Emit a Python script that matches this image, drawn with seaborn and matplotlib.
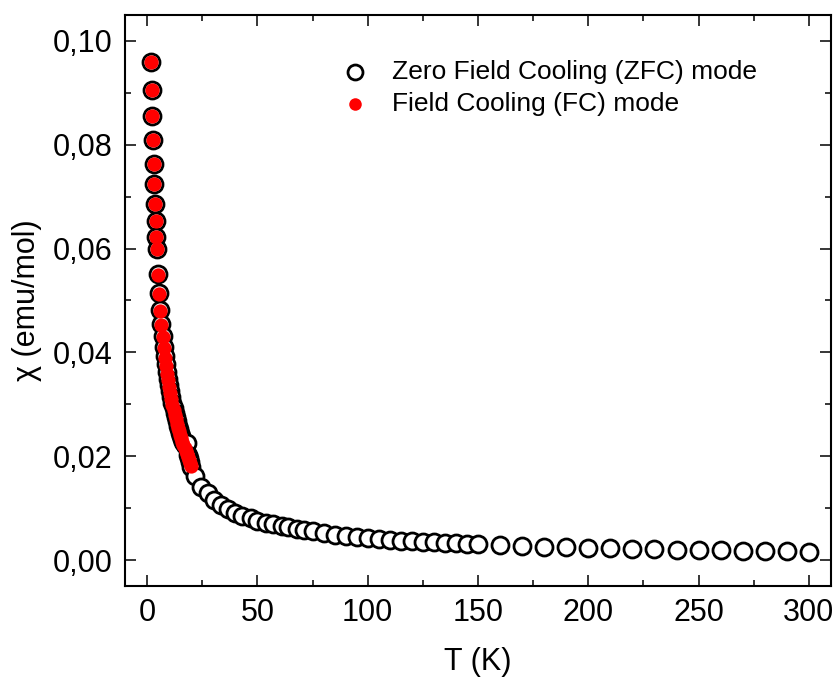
import numpy as np
import pandas as pd
import matplotlib
matplotlib.use('Agg')
import matplotlib.pyplot as plt
from matplotlib.ticker import MultipleLocator, FuncFormatter
import seaborn as sns

# low-T part, measured in both modes
t_low = [1.8, 2.1, 2.4, 2.7, 3.0, 3.3, 3.6, 3.9, 4.2, 4.5,
         5.0, 5.5, 6.0, 6.5, 7.0, 7.5, 8.0, 8.5, 9.0, 9.5,
         10.0, 10.5, 11.0, 11.5, 12.0, 12.5, 13.0, 13.5, 14.0, 14.5,
         15.0, 15.5, 16.0, 16.5, 17.0, 17.5, 18.0, 18.5, 19.0, 19.5, 20.0]
chi_fc = [0.0960, 0.0906, 0.0855, 0.0810, 0.0763, 0.0724, 0.0686, 0.0653, 0.0623, 0.0599,
          0.0550, 0.0512, 0.0480, 0.0452, 0.0429, 0.0408, 0.0390, 0.0374, 0.0359, 0.0346,
          0.0333, 0.0321, 0.0310, 0.0299, 0.0289, 0.0280, 0.0271, 0.0263, 0.0255, 0.0248,
          0.0241, 0.0235, 0.0228, 0.0222, 0.0216, 0.0210, 0.0204, 0.0198, 0.0193, 0.0187, 0.0182]
chi_zfc_low = [0.0960, 0.0906, 0.0855, 0.0810, 0.0763, 0.0724, 0.0686, 0.0653, 0.0623, 0.0599,
               0.0551, 0.0514, 0.0482, 0.0455, 0.0432, 0.0411, 0.0393, 0.0377, 0.0362, 0.0349,
               0.0337, 0.0325, 0.0314, 0.0303, 0.0293, 0.0284, 0.0275, 0.0267, 0.0259, 0.0252,
               0.0245, 0.0239, 0.0233, 0.0227, 0.0221, 0.0222, 0.0226, 0.0203, 0.0196, 0.0188, 0.0180]

# ZFC only above 20 K
t_high = [21.5, 24.5, 27.5, 30.5, 33.5, 36.5, 40.0, 43.0, 47.0, 50.0,
          54.0, 57.0, 61.0, 64.0, 68.0, 71.0,
          75, 80, 85, 90, 95, 100, 105, 110, 115, 120, 125, 130, 135, 140, 145, 150,
          160, 170, 180, 190, 200, 210, 220, 230, 240, 250, 260, 270, 280, 290, 300]
chi_high = [0.0161, 0.0141, 0.0129, 0.0116, 0.0106, 0.0098, 0.0091, 0.0085, 0.0080, 0.0076,
            0.0072, 0.0069, 0.0066, 0.0063, 0.0060, 0.0058,
            0.0055, 0.0052, 0.0049, 0.0047, 0.0044, 0.0042, 0.0040, 0.0039, 0.0037, 0.0036,
            0.0035, 0.0034, 0.0033, 0.0032, 0.0031, 0.0030,
            0.0029, 0.0027, 0.0026, 0.0025, 0.0024, 0.0023, 0.0022, 0.0021, 0.0020, 0.0020,
            0.0019, 0.0018, 0.0018, 0.0017, 0.0016]

zfc = pd.DataFrame({'T': t_low + t_high, 'chi': chi_zfc_low + chi_high})
fc = pd.DataFrame({'T': t_low, 'chi': chi_fc})

sns.set_style('ticks')
plt.rcParams['font.family'] = ['Liberation Sans', 'DejaVu Sans']
plt.rcParams['text.color'] = 'black'
plt.rcParams['axes.labelcolor'] = 'black'

fig = plt.figure(figsize=(8.38, 6.82), dpi=100)
ax = fig.add_axes([0.1492, 0.1408, 0.8424, 0.8372])

sns.scatterplot(data=zfc, x='T', y='chi', ax=ax, s=150, facecolor='white',
                edgecolor='black', linewidth=2.0, label='Zero Field Cooling (ZFC) mode', zorder=2)
sns.scatterplot(data=fc, x='T', y='chi', ax=ax, s=105, color='#ff0000',
                linewidth=0, label='Field Cooling (FC) mode', zorder=3)

ax.set_xlim(-10, 310)
ax.set_ylim(-0.005, 0.105)
ax.xaxis.set_major_locator(MultipleLocator(50))
ax.xaxis.set_minor_locator(MultipleLocator(25))
ax.yaxis.set_major_locator(MultipleLocator(0.02))
ax.yaxis.set_minor_locator(MultipleLocator(0.01))
ax.yaxis.set_major_formatter(FuncFormatter(lambda v, p: f'{v:.2f}'.replace('.', ',')))

ax.tick_params(which='both', direction='in', top=True, right=True, width=1.1,
               labelsize=22, colors='black')
ax.tick_params(which='major', length=8, pad=9)
ax.tick_params(which='minor', length=4.5)
for sp in ax.spines.values():
    sp.set_linewidth(1.5)
    sp.set_color('black')

ax.set_xlabel('T (K)', fontsize=22, labelpad=13)
ax.set_ylabel('χ (emu/mol)', fontsize=22, labelpad=8)

leg = ax.legend(loc='upper left', bbox_to_anchor=(0.273, 0.94), frameon=False,
                fontsize=19, handletextpad=0.4, labelspacing=0.32, markerscale=0.88,
                borderaxespad=0)

plt.savefig('out.png', dpi=100)
